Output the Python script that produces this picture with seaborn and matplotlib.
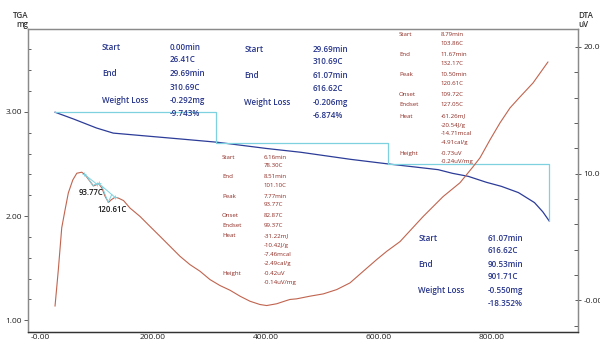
import matplotlib
matplotlib.use('Agg')
import matplotlib.pyplot as plt
import seaborn as sns
import pandas as pd
from matplotlib.ticker import MultipleLocator, FixedLocator, FixedFormatter

sns.set_style('white')
plt.rcParams['font.family'] = ['Open Sans', 'DejaVu Sans']

# ---------------- data ----------------
tga_temp = [26.41, 60, 100, 129.6, 180, 250, 314.2, 400, 461.6, 550, 617.8, 660,
            704.8, 730, 758, 790, 816.6, 846.8, 875.2, 890, 901.71]
tga_mass = [2.997, 2.93, 2.845, 2.796, 2.772, 2.739, 2.708, 2.649, 2.612, 2.544, 2.499, 2.473,
            2.445, 2.41, 2.381, 2.324, 2.285, 2.225, 2.129, 2.04, 1.949]

dta_temp = [26.6, 29.3, 32.5, 38.5, 44.4, 50.2, 58.1, 65.2, 74.0, 79.9, 88.8, 94.6, 99.4,
            103.5, 109.5, 115.4, 121.3, 126.0, 133.1, 139.0, 147.9, 159.3, 177.0, 194.7,
            212.4, 230.1, 247.8, 265.5, 283.2, 300.9, 318.6, 336.3, 354.0, 371.7, 389.4,
            401.2, 418.9, 436.6, 442.5, 454.3, 477.9, 501.4, 525.1, 548.7, 572.2, 595.9,
            613.6, 637.2, 677.9, 713.3, 743.4, 766.4, 778.8, 796.5, 814.2, 831.9, 849.6,
            872.6, 899.1]
dta_uv = [-0.47, 0.84, 2.42, 5.72, 7.14, 8.48, 9.50, 10.03, 10.11, 9.90, 9.37, 9.03, 9.11,
          9.23, 8.87, 8.19, 7.72, 7.93, 8.14, 8.06, 7.87, 7.28, 6.62, 5.83,
          5.05, 4.26, 3.47, 2.81, 2.29, 1.63, 1.16, 0.79, 0.32, -0.08, -0.34,
          -0.42, -0.28, -0.02, 0.06, 0.11, 0.32, 0.50, 0.84, 1.37, 2.29, 3.21,
          3.86, 4.63, 6.60, 8.18, 9.28, 10.54, 11.25, 12.67, 14.01, 15.19, 16.06,
          17.16, 18.82]

step_temp = [26.41, 310.69, 616.62, 901.71]
step_mass = [2.997, 2.705, 2.499, 1.949]

# DTA peak analysis: start, onset, peak, endset, end temperatures and signal
peak_temp = [[78.30, 82.87, 93.77, 99.37, 101.10],
             [103.86, 109.72, 120.61, 127.05, 132.17]]
peak_uv = [[9.95, 9.79, 9.03, 9.21, 9.15],
           [9.23, 9.01, 7.72, 8.35, 8.15]]
peak_labels = ['93.77C', '120.61C']

x_ticks = [0, 200, 400, 600, 800]
x_labels = ['-0.00', '200.00', '400.00', '600.00', '800.00']
yl_ticks = [1, 2, 3]
yl_labels = ['1.00', '2.00', '3.00']
yr_ticks = [0, 10, 20]
yr_labels = ['-0.00', '10.00', '20.00']

tga_block1 = [('Start', '0.00min', '26.41C'), ('End', '29.69min', '310.69C'),
              ('Weight Loss', '-0.292mg', '-9.743%')]
tga_block2 = [('Start', '29.69min', '310.69C'), ('End', '61.07min', '616.62C'),
              ('Weight Loss', '-0.206mg', '-6.874%')]
tga_block3 = [('Start', '61.07min', '616.62C'), ('End', '90.53min', '901.71C'),
              ('Weight Loss', '-0.550mg', '-18.352%')]
dta_blockA = [('Start', ['8.79min', '103.86C']), ('End', ['11.67min', '132.17C']),
              ('Peak', ['10.50min', '120.61C']), ('Onset', ['109.72C']), ('Endset', ['127.05C']),
              ('Heat', ['-61.26mJ', '-20.54J/g', '-14.71mcal', '-4.91cal/g']),
              ('Height', ['-0.73uV', '-0.24uV/mg'])]
dta_blockB = [('Start', ['6.16min', '78.30C']), ('End', ['8.51min', '101.10C']),
              ('Peak', ['7.77min', '93.77C']), ('Onset', ['82.87C']), ('Endset', ['99.37C']),
              ('Heat', ['-31.22mJ', '-10.42J/g', '-7.46mcal', '-2.49cal/g']),
              ('Height', ['-0.42uV', '-0.14uV/mg'])]

# ---------------- colours ----------------
C_TGA = '#2c3c98'
C_DTA = '#c0644f'
C_CYAN = '#7ed2e0'
C_BLUE_TXT = '#27358c'
C_RED_TXT = '#8e2a22'

W, H = 600, 343
fig = plt.figure(figsize=(W / 100, H / 100), dpi=100)
L, R, T, B = 28, 578, 29, 331.5
ax = fig.add_axes([L / W, 1 - B / H, (R - L) / W, (B - T) / H])
ax2 = ax.twinx()

# TGA
sns.lineplot(x=tga_temp, y=tga_mass, ax=ax, sort=False, estimator=None,
             color=C_TGA, linewidth=0.9)
sx, sy = [step_temp[0]], [step_mass[0]]
for i in range(1, len(step_temp)):
    sx += [step_temp[i], step_temp[i]]
    sy += [step_mass[i - 1], step_mass[i]]
sns.lineplot(x=sx, y=sy, ax=ax, sort=False, estimator=None, color=C_CYAN, linewidth=0.9)

# DTA
sns.lineplot(x=dta_temp, y=dta_uv, ax=ax2, sort=False, estimator=None,
             color=C_DTA, linewidth=0.8)
for pt, pv, lab, off in zip(peak_temp, peak_uv, peak_labels, [(-1.5, -4.6), (3.0, -4.8)]):
    sns.lineplot(x=[pt[0], pt[4]], y=[pv[0], pv[4]], ax=ax2, sort=False, estimator=None,
                 color=C_CYAN, linewidth=0.7)
    sns.lineplot(x=[pt[1], pt[2], pt[3]], y=[pv[1], pv[2], pv[3]], ax=ax2, sort=False,
                 estimator=None, color=C_CYAN, linewidth=0.7)
    ax2.plot([pt[0], pt[4]], [pv[0], pv[4]], ls='none', marker='+', ms=3, mew=0.6, color=C_CYAN)
    ax2.annotate(lab, (pt[2], pv[2]), xytext=off, textcoords='offset points',
                 ha='center', va='center', fontsize=5.6, color='#1a1a1a', fontweight='semibold')

# ---------------- axes ----------------
ax.set_xlim(-21.2, 952.2)
ax.set_ylim(0.892, 3.795)
ax2.set_ylim(-2.47, 21.42)

ax.xaxis.set_major_locator(FixedLocator(x_ticks))
ax.xaxis.set_major_formatter(FixedFormatter(x_labels))
ax.xaxis.set_minor_locator(MultipleLocator(50))
ax.yaxis.set_major_locator(FixedLocator(yl_ticks))
ax.yaxis.set_major_formatter(FixedFormatter(yl_labels))
ax.yaxis.set_minor_locator(MultipleLocator(0.2))
ax2.yaxis.set_major_locator(FixedLocator(yr_ticks))
ax2.yaxis.set_major_formatter(FixedFormatter(yr_labels))
ax2.yaxis.set_minor_locator(MultipleLocator(2))

tk = dict(labelsize=6, labelcolor='#222222', color='#444444', width=0.6)
ax.tick_params(axis='x', which='major', direction='in', length=3, pad=2, **tk)
ax.tick_params(axis='x', which='minor', direction='in', length=2.5, color='#444444', width=0.6)
ax.tick_params(axis='y', which='major', direction='out', length=3, pad=1.5, **tk)
ax.tick_params(axis='y', which='minor', direction='in', length=2, color='#444444', width=0.6)
ax2.tick_params(axis='y', which='major', direction='inout', length=5, pad=1.5, **tk)
ax2.tick_params(axis='y', which='minor', direction='in', length=3, color='#444444', width=0.6)
ax.set_xlabel('')
ax.set_ylabel('')
ax2.set_ylabel('')
ax.grid(False)
ax2.grid(False)

for a in (ax, ax2):
    for s in ['top', 'left', 'right']:
        a.spines[s].set_color('#8a8a8a')
        a.spines[s].set_linewidth(0.9)
    a.spines['bottom'].set_color('#333333')
    a.spines['bottom'].set_linewidth(0.9)

# ---------------- texts ----------------
def ftxt(x, y, s, **kw):
    fig.text(x / W, 1 - y / H, s, va='center', **kw)

ftxt(28, 15, 'TGA', ha='right', fontsize=5.8, color='#333333', fontweight='semibold')
ftxt(28, 24.5, 'mg', ha='right', fontsize=5.8, color='#333333', fontweight='semibold')
ftxt(578, 15, 'DTA', ha='left', fontsize=5.8, color='#333333', fontweight='semibold')
ftxt(578, 24.5, 'uV', ha='left', fontsize=5.8, color='#333333', fontweight='semibold')

def tga_block(block, xl, xv, ys):
    for (lab, v1, v2), (y1, y2) in zip(block, ys):
        ftxt(xl, y1, lab, ha='left', fontsize=5.8, color=C_BLUE_TXT, fontweight='semibold')
        ftxt(xv, y1, v1, ha='left', fontsize=5.8, color=C_BLUE_TXT, fontweight='semibold')
        ftxt(xv, y2, v2, ha='left', fontsize=5.8, color=C_BLUE_TXT, fontweight='semibold')

tga_block(tga_block1, 102, 170, [(48, 60), (74, 87), (101, 113)])
tga_block(tga_block2, 244.5, 312.7, [(50, 62), (76, 88.3), (102.7, 115)])
tga_block(tga_block3, 418.3, 487.3, [(238.3, 250.5), (264.3, 276.7), (290.7, 303.3)])

def dta_block(block, xl, xv, ys):
    for (lab, vals), yrow in zip(block, ys):
        ftxt(xl, yrow[0], lab, ha='left', fontsize=4.4, color=C_RED_TXT)
        for v, y in zip(vals, yrow):
            ftxt(xv, y, v, ha='left', fontsize=4.4, color=C_RED_TXT)

dta_block(dta_blockA, 399, 440.5,
          [(35, 43.5), (55, 63.5), (75, 83.5), (94.3,), (105,), (116, 125, 133.5, 142.7),
           (153.3, 161.7)])
dta_block(dta_blockB, 222, 263.5,
          [(157.3, 165.9), (176.7, 185.2), (196.7, 205), (215.7,), (225.7,),
           (235.7, 245, 254.3, 263.3), (273.3, 282.7)])

fig.savefig('out.png', dpi=100)
